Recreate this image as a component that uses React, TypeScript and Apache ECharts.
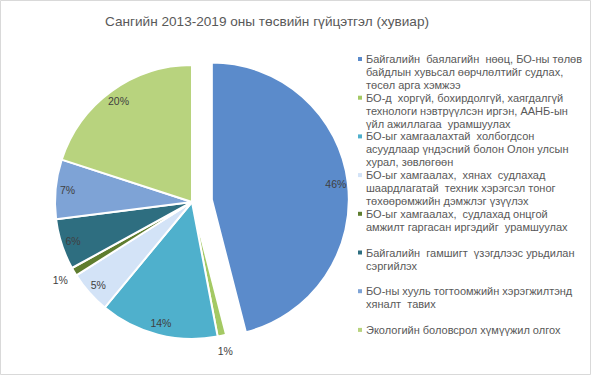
import React, { useEffect, useRef } from "react";
import * as echarts from "echarts";

const TITLE = "Сангийн 2013-2019 оны төсвийн гүйцэтгэл (хувиар)";

const categories = [
  "Байгалийн  баялагийн  нөөц, БО-ны төлөв\nбайдлын хувьсал өөрчлөлтийг судлах,\nтөсөл арга хэмжээ",
  "БО-д  хоргүй, бохирдолгүй, хаягдалгүй\nтехнологи нэвтрүүлсэн иргэн, ААНБ-ын\nүйл ажиллагаа  урамшуулах",
  "БО-ыг хамгаалахтай  холбогдсон\nасуудлаар үндэсний болон Олон улсын\nхурал, зөвлөгөөн",
  "БО-ыг хамгаалах,  хянах  судлахад\nшаардлагатай  техник хэрэгсэл тоног\nтөхөөрөмжийн дэмжлэг үзүүлэх",
  "БО-ыг хамгаалах,  судлахад онцгой\nамжилт гаргасан иргэдийг  урамшуулах",
  "Байгалийн  гамшигт  үзэгдлээс урьдилан\nсэргийлэх",
  "БО-ны хууль тогтоомжийн хэрэгжилтэнд\nхяналт  тавих",
  "Экологийн боловсрол хүмүүжил олгох",
];

const values = [46, 1, 14, 5, 1, 6, 7, 20];

const colors = [
  "#5B8BCB",
  "#A4C964",
  "#4FB0CC",
  "#D3E3F7",
  "#5F7D2F",
  "#2E6E80",
  "#7EA3D6",
  "#B8D37E",
];

// slices whose label sits outside the pie
const outsideLabel = [false, true, false, false, true, false, false, false];

export default function App() {
  const ref = useRef<HTMLDivElement>(null);

  useEffect(() => {
    document.body.style.margin = "0";
    const chart = echarts.init(ref.current!, undefined, { renderer: "svg" });
    const R = 137;
    const center = [192, 202];
    const font = "'Liberation Sans', Arial, sans-serif";

    const mainData = values.map((v, i) => ({
      name: categories[i],
      value: v,
      selected: i === 0,
      itemStyle: { color: colors[i] },
      select: { itemStyle: { color: colors[i], borderColor: "#ffffff", borderWidth: 2 } },
    }));

    const labelData = (outside: boolean) =>
      values.map((v, i) => ({
        name: categories[i],
        value: v,
        selected: i === 0,
        label: { show: outsideLabel[i] === outside },
      }));

    const labelSeriesBase = {
      type: "pie" as const,
      center,
      startAngle: 90,
      clockwise: true,
      selectedMode: "single" as const,
      selectedOffset: 20,
      silent: true,
      animation: false,
      avoidLabelOverlap: false,
      itemStyle: { color: "transparent", borderWidth: 0 },
      select: { itemStyle: { color: "transparent", borderWidth: 0 } },
      emphasis: { disabled: true },
      labelLine: { show: false },
      label: {
        position: "inside" as const,
        formatter: "{c}%",
        color: "#404040",
        fontSize: 10.5,
        fontFamily: font,
      },
    };

    const legendGraphics: any[] = [];
    const lineH = 13;
    categories.forEach((c, i) => {
      const y = 59 + i * 38.7;
      legendGraphics.push({
        type: "rect",
        shape: { x: 358, y: y - 2, width: 4, height: 4 },
        style: { fill: colors[i] },
        silent: true,
      });
      legendGraphics.push({
        type: "text",
        x: 366,
        y: y - lineH / 2,
        style: {
          text: c,
          fill: "#595959",
          font: `11px ${font}`,
          lineHeight: lineH,
          verticalAlign: "top",
          align: "left",
        },
        silent: true,
      });
    });

    chart.setOption({
      animation: false,
      backgroundColor: "#ffffff",
      title: {
        text: TITLE,
        left: 262,
        top: 9,
        textAlign: "center",
        textStyle: { color: "#595959", fontSize: 13.6, fontWeight: "normal", fontFamily: font },
      },
      graphic: [
        {
          type: "rect",
          shape: { x: 0.5, y: 0.5, width: 590, height: 374 },
          style: { fill: "none", stroke: "#d9d9d9", lineWidth: 1 },
          silent: true,
        },
        ...legendGraphics,
      ],
      series: [
        {
          type: "pie",
          center,
          radius: R,
          startAngle: 90,
          clockwise: true,
          selectedMode: "single",
          selectedOffset: 20,
          avoidLabelOverlap: false,
          itemStyle: { borderColor: "#ffffff", borderWidth: 2 },
          emphasis: { disabled: true },
          label: { show: false },
          labelLine: { show: false },
          data: mainData,
        },
        {
          ...labelSeriesBase,
          radius: [Math.round(R * 0.78), R],
          data: labelData(false),
        },
        {
          ...labelSeriesBase,
          radius: [R, R + 26],
          data: labelData(true),
        },
      ],
    });

    return () => chart.dispose();
  }, []);

  return <div ref={ref} style={{ width: 591, height: 375 }} />;
}
